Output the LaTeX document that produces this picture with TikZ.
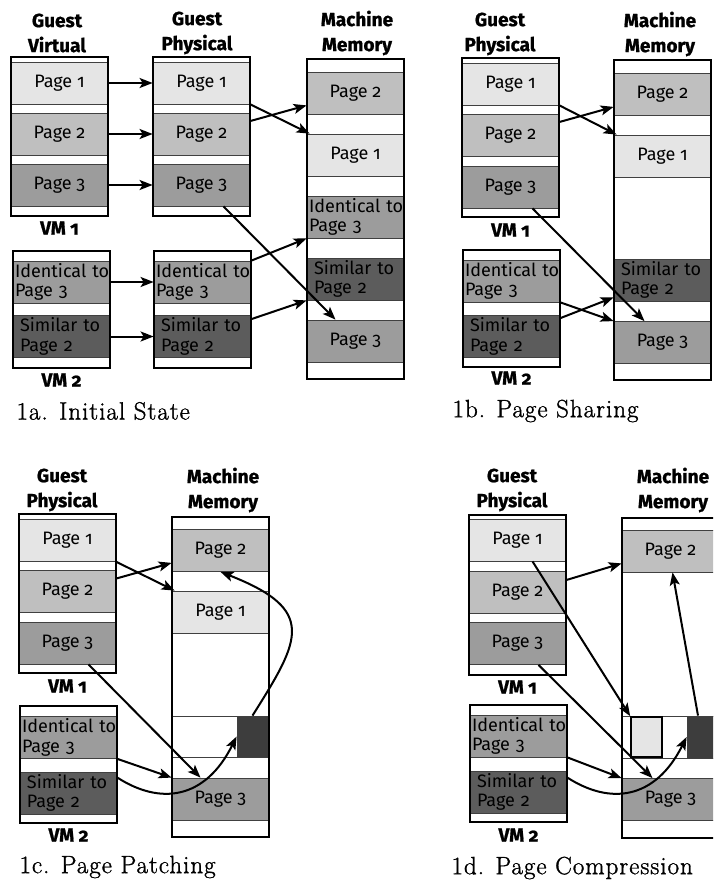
\documentclass[tikz,border=0pt]{standalone}
\usepackage{fontspec}
\newfontfamily\pagefont{Fira Sans}[Numbers=OldStyle]
\newfontfamily\headfont{Fira Sans}[Numbers=OldStyle, BoldFeatures={FakeBold=1}]
\newfontfamily\capfont{Latin Modern Roman}[LetterSpace=4, FakeBold=1.2]
\usepackage{tikz}
\usetikzlibrary{arrows.meta}
\definecolor{pageone}{gray}{0.90}
\definecolor{pagetwo}{gray}{0.75}
\definecolor{pagethree}{gray}{0.61}
\definecolor{pagesim}{gray}{0.36}
\definecolor{patchdark}{gray}{0.24}

\begin{document}
\begin{tikzpicture}[x=1pt, y=-1pt,
		memframe/.style={draw=black, line width=1.8pt},
		slot/.style={draw=black!75, line width=0.8pt, minimum width=97pt, minimum height=42pt, inner sep=0pt, font=\pagefont\fontsize{18}{19.5}\selectfont},
		pgone/.style={slot, fill=pageone},
		pgtwo/.style={slot, fill=pagetwo},
		pgthree/.style={slot, fill=pagethree},
		ident/.style={slot, fill=pagethree, align=left, inner xsep=2pt, text width=93pt},
		simil/.style={slot, fill=pagesim, align=left, inner xsep=7pt, text width=83pt},
		colhead/.style={font=\headfont\bfseries\fontsize{19}{25}\selectfont, align=center},
		vmlabel/.style={font=\headfont\bfseries\fontsize{19}{20}\selectfont},
		captext/.style={anchor=west, font=\capfont\fontsize{25}{28}\selectfont},
		ptr/.style={-{Stealth[length=13pt, width=10pt, inset=3pt]}, line width=2pt}]
		\useasboundingbox (0,0) rectangle (713,883);
		\clip (0,0) rectangle (713,883);
		
		% 1a
		\node[colhead] (ahv) at (57,33) {Guest\\Virtual};
		\node[colhead] (ahp) at (197,33) {Guest\\Physical};
		\node[colhead] (ahm) at (357,33) {Machine\\Memory};
		\node[pgone] (av1) at (59.5,83) {Page 1};
		\node[pgtwo] (av2) at (59.5,134) {Page 2};
		\node[pgthree] (av3) at (59.5,185) {Page 3};
		\node[pgone] (ap1) at (201.5,83) {Page 1};
		\node[pgtwo] (ap2) at (201.5,134) {Page 2};
		\node[pgthree] (ap3) at (201.5,185) {Page 3};
		\node[ident] (avi) at (61.5,282) {\mbox{Identical to}\\Page 3};
		\node[simil] (avs) at (61.5,336.5) {Similar to\\Page 2};
		\node[ident] (api) at (202.5,282) {\mbox{Identical to}\\Page 3};
		\node[simil] (aps) at (202.5,336.5) {Similar to\\Page 2};
		\node[pgtwo] (am2) at (355.5,93) {Page 2};
		\node[pgone] (am1) at (355.5,155) {Page 1};
		\node[ident] (ami) at (355.5,217) {\mbox{Identical to}\\Page 3};
		\node[simil] (ams) at (355.5,279) {Similar to\\Page 2};
		\node[pgthree] (am3) at (355.5,341) {Page 3};
		\draw[memframe] (11,57) rectangle (108,216);
		\draw[memframe] (153,57) rectangle (250,216);
		\draw[memframe] (13,251) rectangle (110,368);
		\draw[memframe] (154,251) rectangle (251,368);
		\draw[memframe] (307,59) rectangle (404,379);
		\node[vmlabel] (avm1) at (59.5,228) {VM 1};
		\node[vmlabel] (avm2) at (61.5,380) {VM 2};
		\node[captext] (capa) at (13,411) {1a. Initial State};
		\draw[ptr] (av1.east) -- (ap1.west);
		\draw[ptr] (av2.east) -- (ap2.west);
		\draw[ptr] (av3.east) -- (ap3.west);
		\draw[ptr] (avi.east) -- (api.west);
		\draw[ptr] (avs.east) -- (aps.west);
		\draw[ptr] (ap1.south east) -- ([xshift=3pt]am1.north west);
		\draw[ptr] ([yshift=13pt]ap2.east) -- ([yshift=9pt]am2.south west);
		\draw[ptr] ([xshift=22pt]ap3.south) -- ([xshift=-20pt]am3.north);
		\draw[ptr] (api.north east) -- (ami.south west);
		\draw[ptr] ([yshift=-4pt]aps.north east) -- (ams.south west);
		
		% 1b
		\node[colhead] (bhp) at (500,34) {Guest\\Physical};
		\node[colhead] (bhm) at (660,34) {Machine\\Memory};
		\node[pgone] (bp1) at (510.5,84) {Page 1};
		\node[pgtwo] (bp2) at (510.5,135) {Page 2};
		\node[pgthree] (bp3) at (510.5,187) {Page 3};
		\node[ident] (bpi) at (511.5,281) {\mbox{Identical to}\\Page 3};
		\node[simil] (bps) at (511.5,336.5) {Similar to\\Page 2};
		\node[pgtwo] (bm2) at (662.5,94.5) {Page 2};
		\node[pgone] (bm1) at (662.5,156) {Page 1};
		\node[simil] (bms) at (662.5,280) {Similar to\\Page 2};
		\node[pgthree] (bm3) at (662.5,342.5) {Page 3};
		\draw[memframe] (462,58) rectangle (559,217);
		\draw[memframe] (463,250) rectangle (560,367);
		\draw[memframe] (614,60) rectangle (711,380);
		\node[vmlabel] (bvm1) at (510.5,230) {VM 1};
		\node[vmlabel] (bvm2) at (511.5,378) {VM 2};
		\node[captext] (capb) at (449,411) {1b. Page Sharing};
		\draw[ptr] (bp1.south east) -- ([xshift=3pt]bm1.north west);
		\draw[ptr] ([yshift=13pt]bp2.east) -- ([yshift=9pt]bm2.south west);
		\draw[ptr] ([xshift=22pt]bp3.south) -- ([xshift=-18pt]bm3.north);
		\draw[ptr] (bpi.south east) -- (bm3.north west);
		\draw[ptr] ([yshift=-3pt]bps.north east) -- ([yshift=4pt]bms.south west);
		
		% 1c
		\node[colhead] (chp) at (62,490) {Guest\\Physical};
		\node[colhead] (chm) at (223,490) {Machine\\Memory};
		\node[pgone] (cp1) at (67.5,540.5) {Page 1};
		\node[pgtwo] (cp2) at (67.5,591.5) {Page 2};
		\node[pgthree] (cp3) at (67.5,643) {Page 3};
		\node[ident] (cpi) at (68.5,737.5) {\mbox{Identical to}\\Page 3};
		\node[simil] (cps) at (68.5,793) {Similar to\\Page 2};
		\node[pgtwo] (cm2) at (220.5,550.5) {Page 2};
		\node[pgone] (cm1) at (220.5,612) {Page 1};
		\node[slot, fill=white, minimum width=98pt, minimum height=41pt] (cmx) at (220,736.5) {};
		\node[slot, fill=patchdark, minimum width=31pt, minimum height=41pt] (cmd) at (252.5,736.5) {};
		\node[pgthree] (cm3) at (220.5,799) {Page 3};
		\draw[memframe] (19,514) rectangle (116,673);
		\draw[memframe] (20,706) rectangle (117,823);
		\draw[memframe] (172,517) rectangle (269,837);
		\node[vmlabel] (cvm1) at (67.5,686) {VM 1};
		\node[vmlabel] (cvm2) at (68.5,835) {VM 2};
		\node[captext] (capc) at (16,867) {1c. Page Patching};
		\draw[ptr] (cp1.south east) -- ([xshift=3pt]cm1.north west);
		\draw[ptr] ([yshift=13pt]cp2.east) -- ([yshift=9pt]cm2.south west);
		\draw[ptr] ([xshift=21pt]cp3.south) -- ([xshift=-20pt]cm3.north);
		\draw[ptr] (cpi.south east) -- (cm3.north west);
		\draw[ptr] ([yshift=-6pt]cps.north east) .. controls (160,805) and (205,800) .. (cmd.west);
		\draw[ptr] (cmd.north) .. controls (300,640) and (318,610) .. (cm2.south);
		
		% 1d
		\node[colhead] (dhp) at (512,490) {Guest\\Physical};
		\node[colhead] (dhm) at (673,490) {Machine\\Memory};
		\node[pgone] (dp1) at (517.5,540) {Page 1};
		\node[pgtwo] (dp2) at (517.5,592) {Page 2};
		\node[pgthree] (dp3) at (517.5,643.5) {Page 3};
		\node[ident] (dpi) at (518.5,736) {\mbox{Identical to}\\Page 3};
		\node[simil] (dps) at (518.5,792) {Similar to\\Page 2};
		\node[pgtwo] (dm2) at (670.5,551) {Page 2};
		\node[slot, fill=white, minimum width=98pt] (dmx) at (670,737) {};
		\node[slot, draw=black, line width=1.6pt, fill=pageone, minimum width=31pt, minimum height=40pt] (dml) at (646.5,737) {};
		\node[slot, fill=patchdark, minimum width=32pt] (dmd) at (703,737) {};
		\node[pgthree] (dm3) at (670.5,799.5) {Page 3};
		\draw[memframe] (469,515) rectangle (566,675);
		\draw[memframe] (470,705) rectangle (567,822);
		\draw[memframe] (622,518) rectangle (719,838);
		\node[vmlabel] (dvm1) at (517.5,687) {VM 1};
		\node[vmlabel] (dvm2) at (518.5,835) {VM 2};
		\node[captext] (capd) at (448,868) {1d. Page Compression};
		\draw[ptr] ([xshift=15pt]dp1.south) -- (dml.north west);
		\draw[ptr] ([yshift=12pt]dp2.east) -- ([yshift=9pt]dm2.south west);
		\draw[ptr] ([xshift=21pt]dp3.south) -- ([xshift=-18pt]dm3.north);
		\draw[ptr] (dpi.south east) -- (dm3.north west);
		\draw[ptr] ([yshift=-7pt]dps.north east) .. controls (610,805) and (655,800) .. (dmd.west);
		\draw[ptr] ([xshift=-5pt]dmd.north) -- ([xshift=2pt]dm2.south);
\end{tikzpicture}
\end{document}
